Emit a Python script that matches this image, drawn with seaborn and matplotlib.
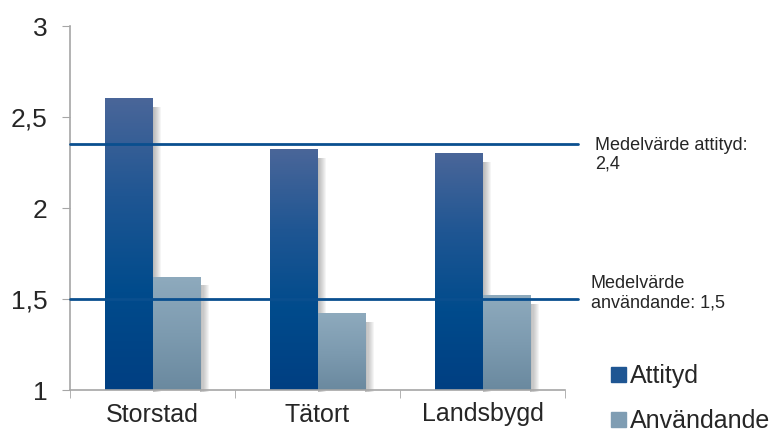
import numpy as np
import pandas as pd
import matplotlib
matplotlib.use('Agg')
import matplotlib.pyplot as plt
import matplotlib.patches as mpatches
from matplotlib.colors import LinearSegmentedColormap
import seaborn as sns

# data
omraden = ['Storstad', 'Tätort', 'Landsbygd']
attityd = [2.60, 2.32, 2.30]
anvandande = [1.62, 1.42, 1.52]
medel_attityd = 2.35
medel_anvandande = 1.50
yticks = [1, 1.5, 2, 2.5, 3]
ytick_labels = ['1', '1,5', '2', '2,5', '3']

df = pd.DataFrame({
    'omrade': omraden * 2,
    'serie': ['Attityd'] * 3 + ['Användande'] * 3,
    'varde': attityd + anvandande,
})

sns.set_style('white')
plt.rcParams['font.family'] = ['Liberation Sans', 'DejaVu Sans']

fig = plt.figure(figsize=(7.74, 4.34), dpi=100)
ax = fig.add_axes([70 / 774, 1 - 390 / 434, 495 / 774, 364 / 434])

sns.barplot(data=df, x='omrade', y='varde', hue='serie',
            palette=['#004a8c', '#7f9db3'], width=0.58, ax=ax,
            legend=False, saturation=1)

ax.set_ylim(1, 3)
ax.set_xlim(-0.5, 2.5)

# gradients on the bars
cmaps = {
    0: LinearSegmentedColormap.from_list('att', ['#4a6699', '#1f5693', '#004b8c', '#003f82']),
    1: LinearSegmentedColormap.from_list('anv', ['#8eaabd', '#7d9bb0', '#6a899f']),
}
grad = np.linspace(0, 1, 256).reshape(-1, 1)
for i, p in enumerate(ax.patches):
    x0 = p.get_x()
    w = p.get_width()
    h = p.get_height()
    cm = cmaps[i // 3]
    # soft shadow to the right
    for k in range(8):
        sh = mpatches.Rectangle((x0 + w, 1 - 0.01), 0.0065 * (k + 1), h - 1 - 0.035,
                                color='#555555', alpha=0.06, zorder=1, lw=0,
                                clip_on=False)
        ax.add_patch(sh)
    ax.imshow(grad, cmap=cm, aspect='auto', extent=(x0, x0 + w, 1, h),
              origin='upper', zorder=2)
    p.set_alpha(0)
ax.set_xlim(-0.5, 2.5)
ax.set_ylim(1, 3)

# average lines, extending a bit past the axis
for v in [medel_attityd, medel_anvandande]:
    ax.plot([-0.5, 2.58], [v, v], color='#0a4f8f', lw=2, zorder=5, clip_on=False)

ax.text(2.68, medel_attityd + 0.04, 'Medelvärde attityd:\n2,4', fontsize=13,
        va='top', ha='left', linespacing=1.15)
ax.text(2.655, medel_anvandande + 0.13, 'Medelvärde\nanvändande: 1,5', fontsize=13,
        va='top', ha='left', linespacing=1.15)

# axes styling
for s in ['top', 'right']:
    ax.spines[s].set_visible(False)
for s in ['left', 'bottom']:
    ax.spines[s].set_color('#a6a6a6')
    ax.spines[s].set_linewidth(1.2)

ax.set_yticks(yticks)
ax.set_yticklabels(ytick_labels, fontsize=19)
ax.tick_params(axis='y', direction='out', length=6, color='#a6a6a6', pad=10, left=True)
ax.set_xticks(range(3))
ax.set_xticklabels(omraden, fontsize=18)
ax.set_xticks([-0.5, 0.5, 1.5, 2.5], minor=True)
ax.tick_params(axis='x', which='major', length=0, pad=9)
ax.tick_params(axis='x', which='minor', direction='out', length=6, color='#a6a6a6', bottom=True)
ax.set_xlabel('')
ax.set_ylabel('')

handles = [mpatches.Patch(color='#1f5693', label='Attityd'),
           mpatches.Patch(color='#7f9db3', label='Användande')]
fig.legend(handles=handles, loc='upper left', bbox_to_anchor=(601 / 774, 1 - 354 / 434),
           frameon=False, fontsize=18, handlelength=0.6, handleheight=0.55,
           handletextpad=0.15, labelspacing=0.85, borderaxespad=0)

fig.savefig('out.png', dpi=100)
